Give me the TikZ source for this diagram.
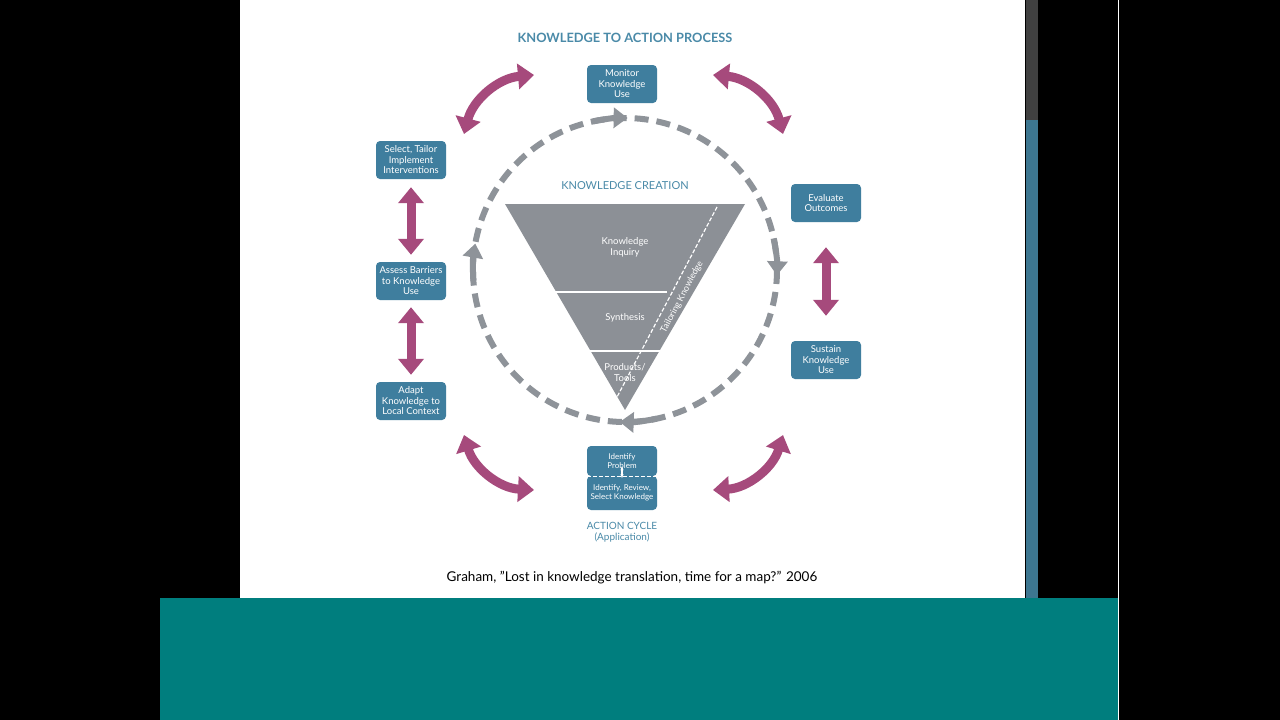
\documentclass[tikz,border=0pt]{standalone}
\usepackage{fontspec}
\setmainfont{Lato}
\usepackage{tikz}
\usetikzlibrary{arrows.meta,calc}
\definecolor{boxblue}{HTML}{3F7E9E}
\definecolor{titleblue}{HTML}{4A8AA8}
\definecolor{magent}{HTML}{A64A7C}
\definecolor{cyclegray}{HTML}{8E9399}
\definecolor{trigray}{HTML}{8C9096}
\definecolor{slideteal}{HTML}{007E7E}
\definecolor{scrollblue}{HTML}{3D7690}
\tikzstyle{actbox} = [rectangle, rounded corners=4pt, fill=boxblue, text=white, align=center, minimum width=70pt, minimum height=38pt, inner sep=1pt, font=\fontsize{9.5}{10.5}\selectfont]
\tikzstyle{heading} = [text=titleblue, font=\fontsize{11}{12}\selectfont, align=center]
\tikzstyle{funneltext} = [text=white, font=\fontsize{9.5}{11}\selectfont, align=center]
\tikzstyle{dbl} = [line width=9pt, magent, {Triangle[width=25pt,length=16pt]}-{Triangle[width=25pt,length=16pt]}]
\tikzstyle{cyc} = [line width=6pt, cyclegray, -{Triangle[width=20pt,length=14pt]}]
\begin{document}
\begin{tikzpicture}[x=1pt,y=-1pt]
\useasboundingbox (0,0) rectangle (1280,720);
\fill[black] (0,0) rectangle (1280,720);
\fill[white] (240,0) rectangle (1025,598);
\fill[black!75] (1026,0) rectangle (1038,120);
\fill[scrollblue] (1026,120) rectangle (1038,598);
\fill[slideteal] (160,598) rectangle (1118,720);
\draw[white, line width=1pt] (1118.5,0) -- (1118.5,720);

\node (title) [heading, font=\bfseries\fontsize{12.8}{14}\selectfont] at (625,38) {KNOWLEDGE TO ACTION PROCESS};

% cycle
\coordinate (c) at (625,270);
\draw[cyclegray, line width=6pt, dash pattern=on 14pt off 8pt] (c) circle (152);
\draw[cyc] ($(c)+(-102:152)$) arc (-102:-89:152);
\draw[cyc] ($(c)+(-12:152)$) arc (-12:2:152);
\draw[cyc] ($(c)+(78:152)$) arc (78:92:152);
\draw[cyc] ($(c)+(176:152)$) arc (176:190:152);

% knowledge creation funnel
\node (kc) [heading] at (625,186) {KNOWLEDGE CREATION};
\fill[trigray] (505,204) -- (745,204) -- (625,410) -- cycle;
\draw[white, line width=2.5pt] (550,292) -- (667,292);
\draw[white, line width=2.5pt] (586,351) -- (660,351);
\draw[white, line width=1.2pt, dash pattern=on 4pt off 2pt] (717,207) -- (617,397);
\node (inquiry) [funneltext] at (625,247) {Knowledge\\Inquiry};
\node (synth) [funneltext] at (625,318) {Synthesis};
\node (prod) [funneltext] at (625,373) {Products/\\Tools};
\node (tailor) [funneltext, font=\fontsize{9}{10}\selectfont, rotate=62] at (682,297) {Tailoring Knowledge};

% action cycle
\node (monitor) [actbox] at (622,84) {Monitor\\Knowledge\\Use};
\node (select) [actbox] at (411,160) {Select, Tailor\\Implement\\Interventions};
\node (assess) [actbox] at (411,281) {Assess Barriers\\to Knowledge\\Use};
\node (adapt) [actbox] at (411,401) {Adapt\\Knowledge to\\Local Context};
\node (evaluate) [actbox] at (826,203) {Evaluate\\Outcomes};
\node (sustain) [actbox] at (826,360) {Sustain\\Knowledge\\Use};
\node (identify) [actbox, minimum height=30pt, font=\fontsize{8}{9}\selectfont] at (622,461) {Identify\\Problem};
\node (review) [actbox, minimum height=34pt, font=\fontsize{8}{9.5}\selectfont] at (622,493) {Identify, Review,\\Select Knowledge};
\draw[white, line width=1.2pt, dash pattern=on 4pt off 2pt] (identify.south west) -- (identify.south east);
\draw[white, line width=1.5pt, {Stealth[length=4pt]}-{Stealth[length=4pt]}] ([yshift=-2pt]identify.south) -- ([yshift=10pt]identify.south);
\node (action) [heading, font=\fontsize{10}{11}\selectfont] at (622,532) {ACTION CYCLE\\(Application)};

\draw[dbl, shorten <=8pt, shorten >=7pt] (select) -- (assess);
\draw[dbl, shorten <=7pt, shorten >=7pt] (assess) -- (adapt);
\draw[dbl, shorten <=25pt, shorten >=25pt] (evaluate) -- (sustain);
\draw[dbl] (464,134) to[bend left=35] (534,75);
\draw[dbl] (713,75) to[bend left=35] (783,134);
\draw[dbl] (783,435) to[bend left=35] (713,490);
\draw[dbl] (534,490) to[bend left=35] (464,435);

\node (cite) [font=\fontsize{13.5}{15}\selectfont] at (632,578) {Graham, ”Lost in knowledge translation, time for a map?” 2006};
\end{tikzpicture}
\end{document}
